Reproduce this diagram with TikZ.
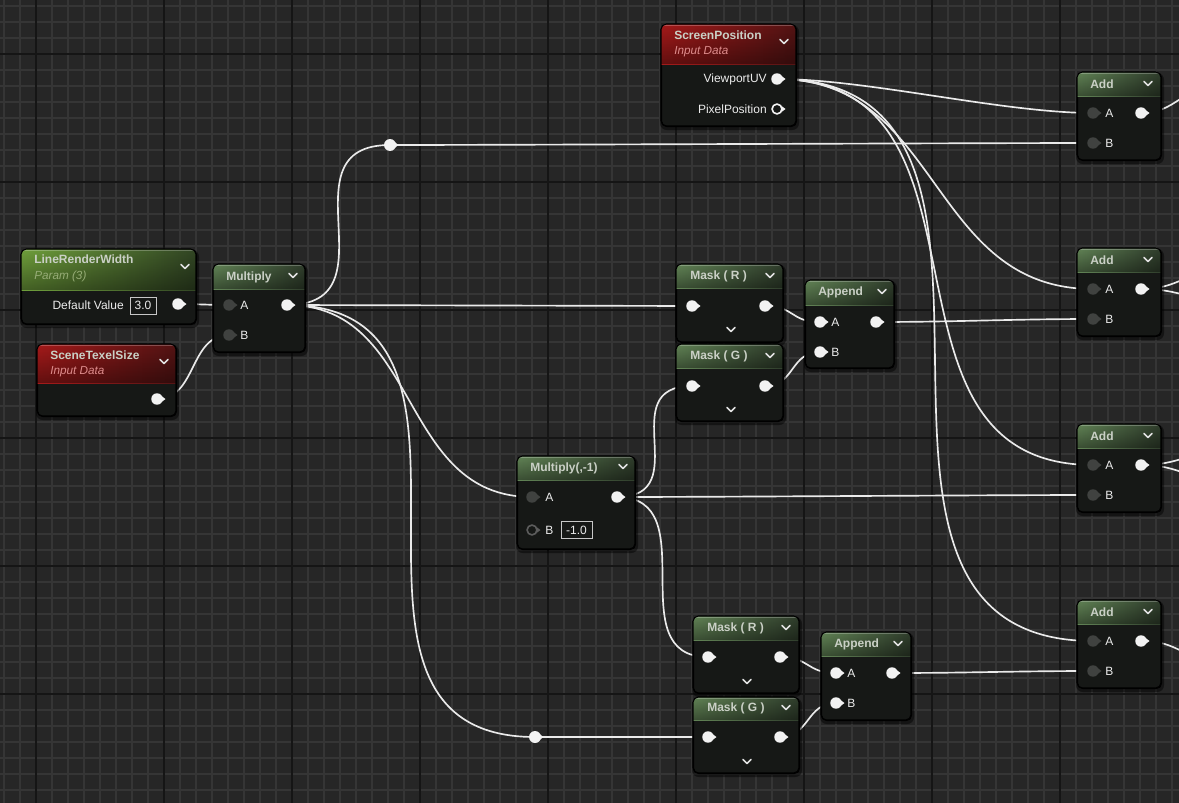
\documentclass[tikz,border=0pt]{standalone}
\usepackage{fontspec}
\setmainfont{Liberation Sans}
\usetikzlibrary{calc,fadings}
\definecolor{bg}{RGB}{38,38,38}
\definecolor{gminor}{RGB}{53,53,53}
\definecolor{gmajor}{RGB}{21,21,21}
\definecolor{bodyc}{RGB}{22,24,22}
\definecolor{opgL}{RGB}{98,132,86}
\definecolor{opgR}{RGB}{48,62,44}
\definecolor{parL}{RGB}{112,160,60}
\definecolor{parR}{RGB}{50,70,36}
\definecolor{redL}{RGB}{166,26,26}
\definecolor{redR}{RGB}{84,20,20}
\definecolor{ttl}{RGB}{202,208,198}
\definecolor{subg}{RGB}{150,172,118}
\definecolor{subr}{RGB}{222,140,140}
\definecolor{wirec}{RGB}{234,234,234}
\definecolor{pinoffc}{RGB}{64,66,64}
\definecolor{pinholc}{RGB}{92,92,92}
\definecolor{lblc}{RGB}{236,236,236}
\pgfdeclarelayer{gridlayer}
\pgfdeclarelayer{wirelayer}
\pgfsetlayers{gridlayer,wirelayer,main}
\tikzset{
  uebody/.style={rectangle, rounded corners=4pt, fill=bodyc, draw=black, line width=0.8pt, inner sep=0pt, anchor=north west},
  ttlfont/.style={font=\bfseries\fontsize{9}{10}\selectfont, text=ttl, anchor=west, inner sep=0pt},
  subfont/.style={font=\itshape\fontsize{8.8}{10}\selectfont, anchor=west, inner sep=0pt},
  lbl/.style={font=\fontsize{9}{10}\selectfont, text=lblc, inner sep=0pt},
  chevron/.style={draw=white!88!black, line width=1.3pt, line cap=round, line join=round},
  pinon/.style={circle, fill=white!95!black, inner sep=0pt, minimum size=8.6pt},
  pinoff/.style={circle, fill=pinoffc, inner sep=0pt, minimum size=8.6pt},
  pinhol/.style={circle, draw=white!95!black, fill=bodyc, line width=1.2pt, inner sep=0pt, minimum size=7.4pt},
  pinholoff/.style={circle, draw=pinholc, fill=bodyc, line width=1.2pt, inner sep=0pt, minimum size=7.4pt},
  reroute/.style={circle, fill=white!95!black, inner sep=0pt, minimum size=9pt},
  wireline/.style={draw=wirec, line width=1.25pt},
  valbox/.style={rectangle, draw=white!78!black, line width=0.7pt, font=\fontsize{9}{10}\selectfont, text=lblc, inner sep=0pt},
}
% box: name, x1, y1, x2, y2, yh, colL, colR
\newcommand{\uebox}[8]{%
  \fill[black, opacity=.45, rounded corners=5pt] (#2-1,#3+1) rectangle (#4+3,#5+4);
  \node[uebody, minimum width={(#4-#2)*0.75pt}, minimum height={(#5-#3)*0.75pt}] (#1) at (#2,#3) {};
  \begin{scope}
    \clip[rounded corners=4pt] (#2,#3) rectangle (#4,#5);
    \shade[left color=#7, right color=#8] (#2,#3) rectangle (#4,#6);
    \fill[black, opacity=.4, path fading=north] (#2,#3) rectangle (#4,#6);
    \draw[white, opacity=.25, line width=0.6pt] (#2,#3+1) -- (#4,#3+1);
  \end{scope}
  \draw[draw=black, line width=0.8pt, rounded corners=4pt] (#2,#3) rectangle (#4,#5);
}
% pin: style, name, x, y, tipcolour
\newcommand{\uepin}[5]{%
  \node[#1] (#2) at (#3,#4) {};
  \fill[#5] (#3+4.5,#4-3) -- (#3+8.5,#4) -- (#3+4.5,#4+3) -- cycle;
}
\newcommand{\chev}[2]{\draw[chevron] (#1-4,#2-2.5) -- (#1,#2+1.5) -- (#1+4,#2-2.5);}

\begin{document}
\begin{tikzpicture}[x=0.75pt, y=-0.75pt]
\useasboundingbox (0,0) rectangle (1179,803);
\begin{pgfonlayer}{gridlayer}
  \clip (0,0) rectangle (1179,803);
  \fill[bg] (0,0) rectangle (1179,803);
  \foreach \x in {4,20,...,1179} \draw[gminor, line width=1.1pt] (\x,0) -- (\x,803);
  \foreach \y in {6,22,...,803} \draw[gminor, line width=1.1pt] (0,\y) -- (1179,\y);
  \foreach \x in {36,164,...,1179} \draw[gmajor, line width=1.5pt] (\x,0) -- (\x,803);
  \foreach \y in {54,182,...,803} \draw[gmajor, line width=1.5pt] (0,\y) -- (1179,\y);
\end{pgfonlayer}

% ---------- LineRenderWidth
\uebox{lrw}{21}{249}{196}{324}{290}{parL}{parR}
\node[ttlfont] (lrwt) at (34,259) {LineRenderWidth};
\node[subfont, text=subg] (lrws) at (34,276) {Param (3)};
\chev{185}{267}
\node[lbl, anchor=east] (lrwl) at (124,305) {Default Value};
\node[valbox, minimum width=19.5pt, minimum height=12.8pt] (lrwv) at (143,305.5) {3.0};
\uepin{pinon}{lrwo}{178}{304}{white!95!black}

% ---------- SceneTexelSize
\uebox{sts}{37}{344}{176}{416}{383}{redL}{redR}
\node[ttlfont] (stst) at (50,355) {SceneTexelSize};
\node[subfont, text=subr] (stss) at (50,372) {Input Data};
\chev{164}{362}
\uepin{pinon}{stso}{157}{399}{white!95!black}

% ---------- Multiply
\uebox{mul}{213}{264}{305}{352}{289}{opgL}{opgR}
\node[ttlfont] (mult) at (226,277) {Multiply};
\chev{293}{276}
\uepin{pinoff}{mula}{229}{305}{pinoffc}
\node[lbl, anchor=west] (mulla) at (240,305) {A};
\uepin{pinoff}{mulb}{229}{335}{pinoffc}
\node[lbl, anchor=west] (mullb) at (240,335) {B};
\uepin{pinon}{mulo}{287}{305}{white!95!black}

% ---------- ScreenPosition
\uebox{sp}{661}{24}{796}{126}{64}{redL}{redR}
\node[ttlfont] (spt) at (674,35) {ScreenPosition};
\node[subfont, text=subr] (sps) at (674,52) {Input Data};
\chev{784}{42}
\node[lbl, anchor=east] (spl1) at (767,79) {ViewportUV};
\uepin{pinon}{vuv}{777}{79}{white!95!black}
\node[lbl, anchor=east] (spl2) at (767,109) {PixelPosition};
\uepin{pinhol}{ppos}{777}{109}{white!95!black}

% ---------- Mask (R) top
\uebox{mr1}{676}{264}{783}{342}{288}{opgL}{opgR}
\node[ttlfont] (mr1t) at (690,276) {Mask ( R )};
\chev{770}{276}
\uepin{pinon}{mr1i}{692}{306}{white!95!black}
\uepin{pinon}{mr1o}{765}{306}{white!95!black}
\chev{731}{330}
% ---------- Mask (G) top
\uebox{mg1}{676}{344}{783}{421}{368}{opgL}{opgR}
\node[ttlfont] (mg1t) at (690,356) {Mask ( G )};
\chev{770}{356}
\uepin{pinon}{mg1i}{692}{386}{white!95!black}
\uepin{pinon}{mg1o}{765}{386}{white!95!black}
\chev{731}{410}
% ---------- Append top
\uebox{ap1}{805}{280}{894}{368}{305}{opgL}{opgR}
\node[ttlfont] (ap1t) at (818,292) {Append};
\chev{882}{292}
\uepin{pinon}{ap1a}{820}{322}{white!95!black}
\node[lbl, anchor=west] (ap1la) at (831,322) {A};
\uepin{pinon}{ap1b}{820}{352}{white!95!black}
\node[lbl, anchor=west] (ap1lb) at (831,352) {B};
\uepin{pinon}{ap1o}{876}{322}{white!95!black}

% ---------- Multiply(,-1)
\uebox{mn}{517}{456}{635}{549}{480}{opgL}{opgR}
\node[ttlfont] (mnt) at (530,468) {Multiply(,-1)};
\chev{623}{467}
\uepin{pinoff}{mna}{532}{497}{pinoffc}
\node[lbl, anchor=west] (mnla) at (545,497) {A};
\uepin{pinholoff}{mnb}{532}{530}{pinholc}
\node[lbl, anchor=west] (mnlb) at (545,530) {B};
\node[valbox, minimum width=23.2pt, minimum height=13pt] (mnv) at (576.5,530) {-1.0};
\uepin{pinon}{mno}{617}{497}{white!95!black}

% ---------- Mask (R) bottom
\uebox{mr2}{693}{616}{799}{693}{640}{opgL}{opgR}
\node[ttlfont] (mr2t) at (707,628) {Mask ( R )};
\chev{786}{628}
\uepin{pinon}{mr2i}{708}{657}{white!95!black}
\uepin{pinon}{mr2o}{780}{657}{white!95!black}
\chev{747}{682}
% ---------- Mask (G) bottom
\uebox{mg2}{693}{697}{799}{773}{720}{opgL}{opgR}
\node[ttlfont] (mg2t) at (707,708) {Mask ( G )};
\chev{786}{708}
\uepin{pinon}{mg2i}{708}{737}{white!95!black}
\uepin{pinon}{mg2o}{780}{737}{white!95!black}
\chev{747}{762}
% ---------- Append bottom
\uebox{ap2}{821}{632}{911}{720}{656}{opgL}{opgR}
\node[ttlfont] (ap2t) at (834,644) {Append};
\chev{898}{644}
\uepin{pinon}{ap2a}{836}{673}{white!95!black}
\node[lbl, anchor=west] (ap2la) at (847,673) {A};
\uepin{pinon}{ap2b}{836}{703}{white!95!black}
\node[lbl, anchor=west] (ap2lb) at (847,703) {B};
\uepin{pinon}{ap2o}{892}{673}{white!95!black}

% ---------- Add nodes
\foreach \i/\y in {1/72,2/248,3/424,4/600}{
  \uebox{add\i}{1077}{\y}{1161}{\y+88}{\y+24}{opgL}{opgR}
  \node[ttlfont] (add\i t) at (1090,\y+12) {Add};
  \chev{1148}{\y+12}
  \uepin{pinoff}{add\i a}{1093}{\y+41}{pinoffc}
  \node[lbl, anchor=west] (add\i la) at (1105,\y+41) {A};
  \uepin{pinoff}{add\i b}{1093}{\y+71}{pinoffc}
  \node[lbl, anchor=west] (add\i lb) at (1105,\y+71) {B};
  \uepin{pinon}{add\i o}{1141}{\y+41}{white!95!black}
}

% ---------- reroute points
\uepin{reroute}{r1}{390}{145}{white!95!black}
\uepin{reroute}{r2}{535}{737}{white!95!black}

% ---------- free ends off the right edge
\coordinate (e1) at (1215,88);
\coordinate (e2a) at (1225,270);
\coordinate (e2b) at (1225,300);
\coordinate (e3a) at (1225,452);
\coordinate (e3b) at (1225,480);
\coordinate (e4) at (1220,660);

% ---------- wires
\begin{pgfonlayer}{wirelayer}
  \clip (0,0) rectangle (1179,803);
  \draw[wireline] (lrwo.center) .. controls +(20,0) and +(-20,0) .. (mula.center);
  \draw[wireline] (stso.center) .. controls +(40,0) and +(-40,0) .. (mulb.center);
  \draw[wireline] (mulo.center) .. controls +(110,0) and +(-110,0) .. (r1.center);
  \draw[wireline] (r1.center) .. controls +(100,0) and +(-100,0) .. (add1b.center);
  \draw[wireline] (mulo.center) -- (mr1i.center);
  \draw[wireline] (mulo.center) .. controls +(135,0) and +(-135,0) .. (mna.center);
  \draw[wireline] (mulo.center) .. controls +(250,0) and +(-250,0) .. (r2.center);
  \draw[wireline] (r2.center) -- (mg2i.center);
  \draw[wireline] (mno.center) .. controls +(80,0) and +(-80,0) .. (mg1i.center);
  \draw[wireline] (mno.center) .. controls +(100,0) and +(-100,0) .. (add3b.center);
  \draw[wireline] (mno.center) .. controls +(90,0) and +(-90,0) .. (mr2i.center);
  \draw[wireline] (mr1o.center) .. controls +(30,0) and +(-30,0) .. (ap1a.center);
  \draw[wireline] (mg1o.center) .. controls +(30,0) and +(-30,0) .. (ap1b.center);
  \draw[wireline] (ap1o.center) .. controls +(80,0) and +(-80,0) .. (add2b.center);
  \draw[wireline] (mr2o.center) .. controls +(30,0) and +(-30,0) .. (ap2a.center);
  \draw[wireline] (mg2o.center) .. controls +(30,0) and +(-30,0) .. (ap2b.center);
  \draw[wireline] (ap2o.center) .. controls +(80,0) and +(-80,0) .. (add4b.center);
  \draw[wireline] (vuv.center) .. controls +(90,0) and +(-90,0) .. (add1a.center);
  \draw[wireline] (vuv.center) .. controls +(165,0) and +(-165,0) .. (add2a.center);
  \draw[wireline] (vuv.center) .. controls +(237,0) and +(-237,0) .. (add3a.center);
  \draw[wireline] (vuv.center) .. controls +(308,0) and +(-308,0) .. (add4a.center);
  \draw[wireline] (add1o.center) .. controls +(35,0) and +(-35,0) .. (e1);
  \draw[wireline] (add2o.center) .. controls +(40,0) and +(-40,0) .. (e2a);
  \draw[wireline] (add2o.center) .. controls +(40,0) and +(-40,0) .. (e2b);
  \draw[wireline] (add3o.center) .. controls +(40,0) and +(-40,0) .. (e3a);
  \draw[wireline] (add3o.center) .. controls +(40,0) and +(-40,0) .. (e3b);
  \draw[wireline] (add4o.center) .. controls +(40,0) and +(-40,0) .. (e4);
\end{pgfonlayer}
\end{tikzpicture}
\end{document}
